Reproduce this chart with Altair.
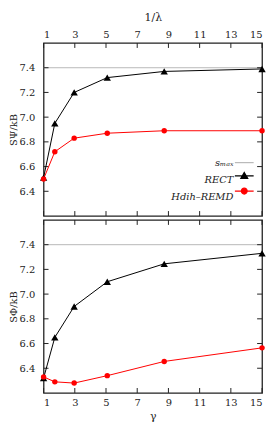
import altair as alt
import pandas as pd

# ---- data ----
x_vals = [1, 1.72, 2.96, 5.08, 8.73, 15]
psi_rect = [6.51, 6.95, 7.20, 7.32, 7.37, 7.39]
psi_hdih = [6.50, 6.72, 6.83, 6.87, 6.89, 6.89]
phi_rect = [6.32, 6.65, 6.90, 7.10, 7.245, 7.33]
phi_hdih = [6.33, 6.29, 6.28, 6.34, 6.455, 6.565]
s_max = 7.4

x_ticks = [1, 3, 5, 7, 9, 11, 13, 15]
y_ticks = [6.4, 6.6, 6.8, 7.0, 7.2, 7.4]
series = ["sₘₐₓ", "RECT", "Hdih–REMD"]
series_colors = ["#b8b8b8", "#000000", "#ff0000"]
legend_paths = [
    "M-1.5,0H1.5",
    "M-1.5,0H1.5M0,-0.55L0.55,0.4L-0.55,0.4Z",
    "M-1.5,0H1.5M0.47,0A0.47,0.47,0,1,1,-0.47,0A0.47,0.47,0,1,1,0.47,0Z",
]

W, H = 221, 175
FONT = "DejaVu Serif"
INK = "#222222"
TICK = 5
SYM = 160

xscale = alt.Scale(domain=[1, 15], nice=False, zero=False)
yscale = alt.Scale(domain=[6.2, 7.6], nice=False, zero=False)


def panel(rect, hdih, ytitle, top):
    common = dict(values=x_ticks, grid=False, domain=False, ticks=False, format="d")
    if top:
        xaxis = alt.Axis(orient="top", title="1/λ", labelPadding=4, titlePadding=7, **common)
    else:
        xaxis = alt.Axis(orient="bottom", title="γ", labelPadding=5, titlePadding=3, **common)
    yaxis = alt.Axis(values=y_ticks, title=ytitle, format=".1f", labelPadding=9,
                     titlePadding=0, titleFontSize=10, grid=False, domain=False, ticks=False)

    def X(f):
        return alt.X(f"{f}:Q", scale=xscale, axis=xaxis)

    def Y(f):
        return alt.Y(f"{f}:Q", scale=yscale, axis=yaxis)

    df_rect = pd.DataFrame({"x": x_vals, "y": rect})
    df_hdih = pd.DataFrame({"x": x_vals, "y": hdih})
    df_xt = pd.DataFrame({"x": x_ticks})
    df_yt = pd.DataFrame({"y": y_ticks})

    smax = alt.Chart(pd.DataFrame({"y": [s_max]})).mark_rule(
        color=series_colors[0], strokeWidth=1).encode(y=Y("y"))
    tick_top = alt.Chart(df_xt).mark_rule(color=INK, strokeWidth=1).encode(
        x=X("x"), y=alt.value(0), y2=alt.value(TICK))
    tick_bot = alt.Chart(df_xt).mark_rule(color=INK, strokeWidth=1).encode(
        x=X("x"), y=alt.value(H), y2=alt.value(H - TICK))
    tick_left = alt.Chart(df_yt).mark_rule(color=INK, strokeWidth=1).encode(
        y=Y("y"), x=alt.value(0), x2=alt.value(TICK))
    tick_right = alt.Chart(df_yt).mark_rule(color=INK, strokeWidth=1).encode(
        y=Y("y"), x=alt.value(W - TICK), x2=alt.value(W))

    line_rect = alt.Chart(df_rect).mark_line(color=series_colors[1], strokeWidth=1).encode(
        x=X("x"), y=Y("y"))
    pts_rect = alt.Chart(df_rect).mark_point(shape="triangle-up", filled=True, size=55,
                                             color=series_colors[1], opacity=1).encode(
        x=X("x"), y=Y("y"))
    line_hdih = alt.Chart(df_hdih).mark_line(color=series_colors[2], strokeWidth=1).encode(
        x=X("x"), y=Y("y"))
    pts_hdih = alt.Chart(df_hdih).mark_point(shape="circle", filled=True, size=30,
                                             color=series_colors[2], opacity=1).encode(
        x=X("x"), y=Y("y"))

    layers = [smax, tick_top, tick_bot, tick_left, tick_right,
              line_rect, line_hdih, pts_rect, pts_hdih]

    if top:
        labels = [s + " " for s in series]
        # legend A: symbols only (line + marker)
        sym_opts = dict(
            title=None, orient="none", legendX=196, legendY=114,
            labelOpacity=0, labelFontSize=1, labelLimit=1, labelOffset=0,
            symbolSize=SYM, rowPadding=3.4, padding=0, symbolStrokeWidth=1.2,
        )
        # legend B: labels only, right-aligned to the left of the symbols
        lab_opts = dict(
            title=None, orient="none", legendX=177, legendY=114,
            labelAlign="right", labelOffset=0, labelFont=FONT,
            labelFontStyle="italic", labelFontSize=10, labelColor=INK,
            symbolSize=SYM, symbolType="circle", symbolOpacity=0,
            rowPadding=3.4, padding=0,
        )
        sym_df = pd.DataFrame({"series": series})
        lab_df = pd.DataFrame({"label": labels})
        leg_sym = alt.Chart(sym_df).transform_filter("false").mark_point(
            filled=True, size=SYM, strokeWidth=1.2, opacity=1).encode(
            x=alt.value(0), y=alt.value(0),
            fill=alt.Fill("series:N", scale=alt.Scale(domain=series, range=series_colors),
                          legend=alt.Legend(**sym_opts)),
            stroke=alt.Stroke("series:N", scale=alt.Scale(domain=series, range=series_colors),
                              legend=alt.Legend(**sym_opts)),
            shape=alt.Shape("series:N", scale=alt.Scale(domain=series, range=legend_paths),
                            legend=alt.Legend(**sym_opts)),
        )
        leg_lab = alt.Chart(lab_df).transform_filter("false").mark_point(
            filled=True, size=SYM, opacity=0).encode(
            x=alt.value(0), y=alt.value(0),
            color=alt.Color("label:N", scale=alt.Scale(domain=labels, range=series_colors),
                            legend=alt.Legend(**lab_opts)),
        )
        layers += [leg_sym, leg_lab]

    return alt.layer(*layers).properties(width=W, height=H)


top = panel(psi_rect, psi_hdih, "SΨ/kB", True)
bottom = panel(phi_rect, phi_hdih, "SΦ/kB", False)

chart = alt.vconcat(top, bottom, spacing=0, padding=0, background="white").configure_view(
    stroke=INK, strokeWidth=1.3
).configure_axis(
    labelFont=FONT, titleFont=FONT, labelFontSize=10, titleFontSize=11,
    labelColor=INK, titleColor=INK, titleFontWeight="normal"
)

chart.save("out.html", embed_options={"renderer": "svg", "actions": False})
